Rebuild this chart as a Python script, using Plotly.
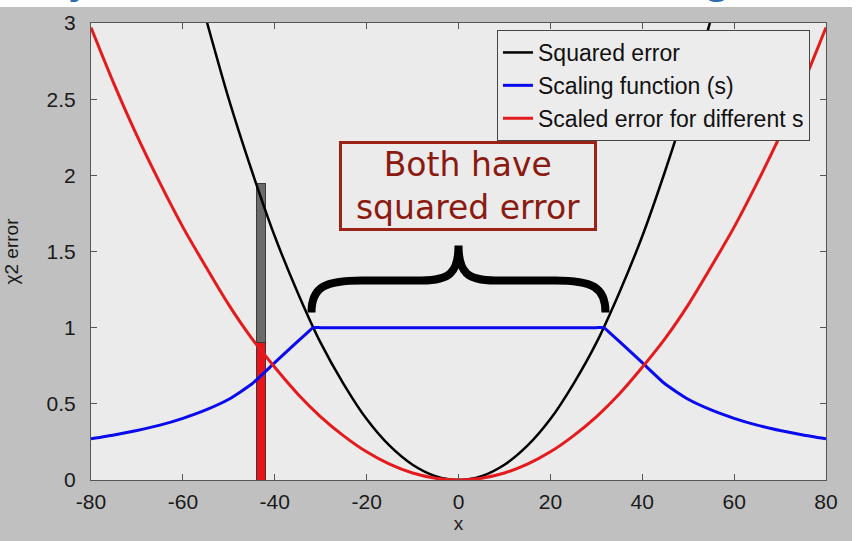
import plotly.graph_objects as go

# ---- data ----
black_x = [-56, -50, -45, -40, -35, -30, -25, -20, -15, -10, -5, 0, 5, 10, 15, 20, 25, 30, 35, 40, 45, 50, 56]
black_y = [3.14, 2.50, 2.03, 1.60, 1.23, 0.90, 0.63, 0.40, 0.225, 0.10, 0.025, 0.0, 0.025, 0.10, 0.225, 0.40, 0.63, 0.90, 1.23, 1.60, 2.03, 2.50, 3.14]

blue_x = [-80, -75, -70, -65, -60, -55, -50, -45, -40, -35, -33, -31.6, -30, 0, 30,
          31.6, 33, 35, 40, 45, 50, 55, 60, 65, 70, 75, 80]
blue_y = [0.27, 0.295, 0.325, 0.36, 0.405, 0.46, 0.53, 0.63, 0.77, 0.91, 0.964, 1.0, 1.0, 1.0, 1.0,
          1.0, 0.964, 0.91, 0.77, 0.63, 0.53, 0.46, 0.405, 0.36, 0.325, 0.295, 0.27]

red_x = [-80, -75, -70, -65, -60, -55, -50, -45, -40, -35, -30, -25, -20, -15, -10, -5, 0,
         5, 10, 15, 20, 25, 30, 35, 40, 45, 50, 55, 60, 65, 70, 75, 80]
red_y = [2.97, 2.60, 2.26, 1.95, 1.66, 1.40, 1.15, 0.93, 0.74, 0.565, 0.415, 0.29, 0.185, 0.104, 0.046, 0.012, 0.0,
         0.012, 0.046, 0.104, 0.185, 0.29, 0.415, 0.565, 0.74, 0.93, 1.15, 1.40, 1.66, 1.95, 2.26, 2.60, 2.97]

bar_x = [-43]
bar_red = [0.905]
bar_gray = [1.04]

x_ticks = [-80, -60, -40, -20, 0, 20, 40, 60, 80]
x_ticktext = ["-80", "-60", "-40", "-20", "0", "20", "40", "60", "80"]
y_ticks = [0, 0.5, 1, 1.5, 2, 2.5, 3]
y_ticktext = ["0", "0.5", "1", "1.5", "2", "2.5", "3"]

FONT = "Liberation Sans, Arial, sans-serif"

fig = go.Figure()

fig.add_trace(go.Bar(x=bar_x, y=bar_red, width=2, marker=dict(color="#e8141a", line=dict(color="#3a3a3a", width=1)),
                     showlegend=False, hoverinfo="skip"))
fig.add_trace(go.Bar(x=bar_x, y=bar_gray, width=2, marker=dict(color="#6a6a6a", line=dict(color="#3a3a3a", width=1)),
                     showlegend=False, hoverinfo="skip"))

fig.add_trace(go.Scatter(x=black_x, y=black_y, mode="lines", name="Squared error",
                         line=dict(color="#000000", width=2.5, shape="spline", smoothing=0.8)))
fig.add_trace(go.Scatter(x=blue_x, y=blue_y, mode="lines", name="Scaling function (s)",
                         line=dict(color="#0a0aee", width=3, shape="spline", smoothing=0.5)))
fig.add_trace(go.Scatter(x=red_x, y=red_y, mode="lines", name="Scaled error for different s",
                         line=dict(color="#e41a1c", width=3, shape="spline", smoothing=0.8)))

# curly brace
brace = ("M -32,1.10 C -32,1.27 -29,1.31 -21,1.31 L -8,1.31 C -2,1.31 0,1.36 0,1.54 "
         "C 0,1.36 2,1.31 8,1.31 L 21,1.31 C 29,1.31 32,1.27 32,1.10")
fig.add_shape(type="path", path=brace, xref="x", yref="y", line=dict(color="black", width=8))

# white slide strips outside the gray figure
fig.add_shape(type="rect", xref="paper", yref="paper", x0=-0.2, x1=1.2,
              y0=(480.5 - 7) / 457.5, y1=1.2, fillcolor="white", line=dict(width=0), layer="above")
fig.add_shape(type="rect", xref="paper", yref="paper", x0=(852 - 91) / 735, x1=1.2,
              y0=-0.2, y1=1.2, fillcolor="white", line=dict(width=0), layer="above")

fig.add_annotation(x=2, y=1.93, xref="x", yref="y", text="Both have<br>squared error", showarrow=False,
                   font=dict(family="DejaVu Sans, Verdana, sans-serif", size=33, color="#8b1a10"),
                   width=250, height=82, align="center",
                   bordercolor="#9b2216", borderwidth=3, borderpad=1)

# cut-off slide title fragments
for px, ch in [(80, "y"), (718, "g")]:
    fig.add_annotation(x=(px - 91) / 735, y=(480.5 - 5) / 457.5, xref="paper", yref="paper", text=ch,
                       showarrow=False, yanchor="bottom", xanchor="center",
                       font=dict(family="DejaVu Sans, sans-serif", size=44, color="#2f6db3"))

fig.update_layout(
    width=860, height=541,
    margin=dict(l=91, r=34, t=23, b=61),
    paper_bgcolor="#c0c0c0",
    plot_bgcolor="#ebebeb",
    barmode="stack",
    font=dict(family=FONT, size=20, color="#1a1a1a"),
    legend=dict(x=(497 - 91) / 735, y=(480.5 - 30) / 457.5, xanchor="left", yanchor="top",
                traceorder="normal",
                bgcolor="#ececec", bordercolor="#444444", borderwidth=1,
                font=dict(family=FONT, size=23, color="#111111")),
    showlegend=True,
)

fig.update_xaxes(range=[-80, 80], tickvals=x_ticks, ticktext=x_ticktext, ticks="inside", ticklen=6, tickcolor="#555",
                 showline=True, linecolor="#555", linewidth=1, mirror="allticks", ticklabelstandoff=3,
                 showgrid=False, zeroline=False, title=dict(text="x", font=dict(size=19), standoff=1),
                 tickfont=dict(size=21), automargin=False)
fig.update_yaxes(range=[0, 3], tickvals=y_ticks, ticktext=y_ticktext, ticks="inside", ticklen=6, tickcolor="#555",
                 showline=True, linecolor="#555", linewidth=1, mirror="allticks", ticklabelstandoff=10,
                 showgrid=False, zeroline=False, title=dict(text="χ2 error", font=dict(size=19), standoff=22),
                 tickfont=dict(size=21), automargin=False)

fig.write_html("out.html")
